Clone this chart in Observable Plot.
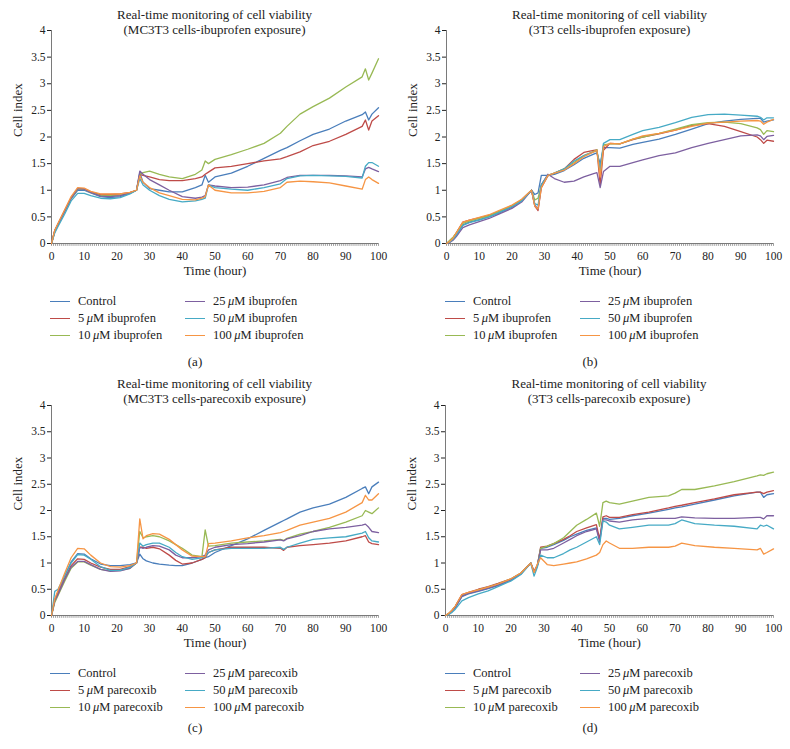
<!DOCTYPE html>
<html>
<head>
<meta charset="utf-8">
<script src="https://cdn.jsdelivr.net/npm/d3@7"></script>
<script src="https://cdn.jsdelivr.net/npm/@observablehq/plot@0.6"></script>
<style>
  html, body { margin: 0; padding: 0; background: #fff; }
  #fig { position: relative; width: 790px; height: 749px; overflow: hidden; font-family: "Liberation Serif", "Times New Roman", serif; color: #222; }
  .panel { position: absolute; width: 395px; height: 379px; }
  .panel svg { position: absolute; left: 0; top: 0; }
  .panel svg, .panel svg text { font-family: "Liberation Serif", "Times New Roman", serif !important; }
  .title { position: absolute; text-align: center; font-size: 13px; line-height: 15px; white-space: nowrap; }
  .leg { position: absolute; font-size: 12.5px; line-height: 16px; white-space: nowrap; }
  .leg .sw { display: inline-block; width: 20px; height: 0; border-top: 1.5px solid; vertical-align: middle; margin-right: 8px; position: relative; top: -1px; }
  .cap { position: absolute; font-size: 13px; line-height: 16px; transform: translateX(-50%); }
</style>
</head>
<body>
<div id="fig"></div>
<script>
// ---------- labels ----------
const seriesColors = ["#4A7EBB", "#BE4B48", "#98B954", "#7D60A0", "#46AAC5", "#F69544"];
const doseLabels = ["Control", "5", "10", "25", "50", "100"];
const drugs = ["ibuprofen", "ibuprofen", "parecoxib", "parecoxib"];
const titleLine1 = "Real-time monitoring of cell viability";
const titleLine2 = ["(MC3T3 cells-ibuprofen exposure)", "(3T3 cells-ibuprofen exposure)", "(MC3T3 cells-parecoxib exposure)", "(3T3 cells-parecoxib exposure)"];
const captions = ["(a)", "(b)", "(c)", "(d)"];
const yTicks = [0, 0.5, 1, 1.5, 2, 2.5, 3, 3.5, 4];
const xTicks = [0, 10, 20, 30, 40, 50, 60, 70, 80, 90, 100];
const yLabel = "Cell index";
const xLabel = "Time (hour)";

// ---------- panel (a): MC3T3 cells, ibuprofen ----------
const hoursA = [0,1,2,4,6,8,10,12,15,18, 21,24,26,27,28,30,33,36,40,44, 46,47,48,50,55,60,65,70,72,76, 80,85,90,95,96,97,98,100];
const a_control = [0,.22,.35,.6,.84,1.0,1.0,.95,.88,.86, .88,.94,1.0,1.33,1.15,1.03,1.0,.97,.97,1.05, 1.1,1.28,1.15,1.25,1.32,1.45,1.6,1.75,1.8,1.93, 2.05,2.15,2.3,2.42,2.47,2.32,2.43,2.55];
const a_5 = [0,.25,.37,.62,.86,1.03,1.03,.97,.92,.92, .93,.96,1.0,1.3,1.28,1.25,1.2,1.18,1.18,1.22, 1.25,1.3,1.34,1.42,1.45,1.5,1.55,1.59,1.63,1.72, 1.84,1.92,2.05,2.2,2.32,2.13,2.3,2.4];
const a_10 = [0,.23,.36,.6,.85,1.02,1.02,.96,.9,.9, .91,.95,1.0,1.3,1.33,1.36,1.3,1.25,1.22,1.3, 1.38,1.55,1.5,1.58,1.67,1.77,1.88,2.07,2.2,2.43, 2.57,2.73,2.94,3.13,3.28,3.07,3.2,3.47];
const a_25 = [0,.24,.36,.6,.85,1.03,1.02,.96,.89,.88, .9,.95,1.0,1.36,1.3,1.2,1.1,1.0,.88,.85, .87,.9,1.1,1.08,1.05,1.06,1.1,1.18,1.24,1.28, 1.28,1.28,1.27,1.25,1.4,1.43,1.4,1.35];
const a_50 = [0,.2,.32,.55,.8,.94,.94,.9,.85,.84, .86,.93,1.0,1.22,1.1,1.0,.9,.83,.78,.8, .83,.85,1.1,1.05,1.02,1.0,1.05,1.12,1.22,1.27, 1.28,1.27,1.26,1.23,1.45,1.52,1.52,1.45];
const a_100 = [0,.25,.38,.63,.88,1.05,1.04,.98,.93,.93, .93,.96,1.0,1.27,1.15,1.05,.95,.9,.83,.82, .85,.88,1.1,1.0,.95,.95,.98,1.05,1.15,1.17, 1.16,1.14,1.08,1.02,1.2,1.25,1.2,1.13];

// ---------- panel (b): 3T3 cells, ibuprofen ----------
const hoursB = [0,1,2,3,5,7,10,13,16,20, 23,26,27,28,29,31,33,36,39,42, 45,46,47,48,50,53,57,60,65,70, 75,80,85,90,95,96,97,98,100];
const b_control = [0,.03,.08,.15,.35,.4,.45,.5,.57,.68, .8,1.0,.92,.95,1.28,1.28,1.3,1.37,1.48,1.6, 1.68,1.7,1.5,1.8,1.8,1.79,1.86,1.9,1.96,2.05, 2.15,2.25,2.3,2.33,2.35,2.35,2.28,2.3,2.32];
const b_5 = [0,.04,.1,.2,.4,.44,.48,.53,.6,.7, .82,1.0,.7,.62,1.05,1.27,1.32,1.4,1.58,1.71, 1.75,1.76,1.1,1.75,1.88,1.87,1.95,2.0,2.06,2.13, 2.22,2.25,2.2,2.1,2.0,1.95,1.88,1.94,1.92];
const b_10 = [0,.06,.12,.2,.38,.42,.47,.52,.6,.71, .82,1.0,.82,.85,1.1,1.28,1.32,1.4,1.52,1.65, 1.73,1.76,1.3,1.85,1.87,1.87,1.96,2.0,2.07,2.15, 2.23,2.27,2.28,2.25,2.17,2.14,2.05,2.12,2.1];
const b_25 = [0,.02,.06,.13,.3,.35,.41,.47,.55,.66, .78,1.0,.72,.65,1.1,1.3,1.22,1.15,1.17,1.25, 1.31,1.33,1.05,1.35,1.45,1.45,1.52,1.57,1.65,1.7, 1.8,1.88,1.95,2.02,2.04,2.02,1.95,2.01,2.03];
const b_50 = [0,.03,.08,.16,.34,.39,.44,.5,.58,.69, .8,1.0,.75,.72,1.1,1.28,1.32,1.4,1.55,1.65, 1.72,1.74,1.4,1.88,1.95,1.95,2.05,2.12,2.18,2.27, 2.37,2.42,2.43,2.41,2.39,2.37,2.32,2.36,2.36];
const b_100 = [0,.04,.1,.2,.4,.44,.49,.54,.62,.72, .83,1.0,.7,.65,1.05,1.28,1.32,1.38,1.5,1.63, 1.72,1.75,1.25,1.82,1.88,1.87,1.96,2.02,2.07,2.13, 2.2,2.26,2.28,2.3,2.31,2.3,2.24,2.28,2.33];

// ---------- panel (c): MC3T3 cells, parecoxib ----------
const hoursC = [0,1,2,4,6,8,10,12,15,18, 21,24,26,27,28,29,31,33,36,38, 40,43,46,47,48,50,55,60,65,70, 71,72,76,80,85,90,95,96,97,98, 100];
const c_control = [0,.3,.45,.75,1.02,1.18,1.17,1.08,.98,.95, .95,.97,1.0,1.17,1.08,1.04,1.0,.98,.96,.95, .95,1.0,1.07,1.1,1.12,1.2,1.33,1.46,1.62,1.78, 1.81,1.84,1.97,2.05,2.12,2.25,2.42,2.45,2.32,2.45, 2.54];
const c_5 = [0,.3,.42,.7,.95,1.08,1.07,1.0,.92,.88, .88,.93,1.0,1.3,1.3,1.28,1.3,1.27,1.15,1.05, .98,1.0,1.07,1.1,1.2,1.25,1.3,1.3,1.3,1.28, 1.24,1.3,1.33,1.35,1.38,1.42,1.5,1.52,1.4,1.37, 1.35];
const c_10 = [0,.25,.38,.65,.9,1.02,1.02,.96,.88,.85, .86,.9,1.0,1.6,1.48,1.5,1.52,1.5,1.42,1.35, 1.28,1.15,1.12,1.63,1.32,1.33,1.38,1.4,1.42,1.45, 1.43,1.47,1.55,1.6,1.68,1.78,1.9,2.0,1.97,1.94, 2.05];
const c_25 = [0,.28,.4,.68,.92,1.03,1.03,.97,.88,.84, .85,.9,1.0,1.3,1.28,1.3,1.33,1.32,1.25,1.15, 1.1,1.1,1.12,1.15,1.25,1.3,1.35,1.37,1.4,1.44, 1.42,1.46,1.52,1.6,1.65,1.68,1.72,1.74,1.68,1.6, 1.58];
const c_50 = [0,.46,.5,.75,1.0,1.16,1.15,1.07,.93,.86, .86,.92,1.0,1.38,1.32,1.35,1.38,1.38,1.3,1.2, 1.12,1.07,1.1,1.12,1.2,1.25,1.28,1.28,1.28,1.3, 1.26,1.3,1.38,1.45,1.48,1.5,1.57,1.6,1.48,1.42, 1.4];
const c_100 = [0,.32,.48,.8,1.1,1.28,1.27,1.15,1.0,.93, .92,.95,1.0,1.84,1.46,1.52,1.56,1.55,1.45,1.35, 1.25,1.13,1.12,1.12,1.37,1.38,1.42,1.48,1.52,1.58, 1.6,1.62,1.72,1.78,1.85,1.97,2.15,2.29,2.2,2.2, 2.32];

// ---------- panel (d): 3T3 cells, parecoxib ----------
const hoursD = [0,1,2,3,5,7,10,13,16,20, 23,26,27,28,29,31,33,36,38,40, 43,46,47,48,49,50,53,57,62,68, 70,72,76,82,88,95,96,97,98,100];
const d_control = [0,.03,.08,.15,.36,.41,.46,.51,.57,.67, .79,1.0,.82,.95,1.28,1.3,1.35,1.43,1.5,1.55, 1.62,1.67,1.45,1.85,1.85,1.83,1.85,1.9,1.95,2.02, 2.05,2.07,2.12,2.2,2.28,2.35,2.35,2.25,2.3,2.32];
const d_5 = [0,.04,.1,.18,.4,.44,.5,.55,.61,.7, .81,1.0,.85,.95,1.3,1.32,1.37,1.45,1.52,1.6, 1.67,1.73,1.45,1.88,1.9,1.87,1.87,1.92,1.97,2.05, 2.08,2.1,2.15,2.22,2.3,2.35,2.35,2.32,2.35,2.38];
const d_10 = [0,.04,.1,.18,.38,.43,.49,.54,.6,.7, .81,1.0,.82,.95,1.28,1.32,1.37,1.48,1.6,1.72, 1.83,1.95,1.7,2.15,2.18,2.15,2.12,2.18,2.25,2.28, 2.33,2.4,2.4,2.47,2.55,2.66,2.68,2.67,2.7,2.73];
const d_25 = [0,.03,.08,.16,.37,.42,.47,.52,.58,.68, .8,1.0,.83,.95,1.25,1.25,1.28,1.38,1.45,1.52, 1.6,1.65,1.4,1.82,1.82,1.8,1.78,1.82,1.85,1.85, 1.85,1.88,1.86,1.85,1.85,1.87,1.87,1.84,1.9,1.9];
const d_50 = [0,.02,.06,.12,.28,.34,.41,.47,.55,.66, .78,1.0,.75,.92,1.15,1.1,1.1,1.18,1.25,1.3, 1.4,1.5,1.35,1.8,1.78,1.72,1.65,1.68,1.72,1.72, 1.75,1.82,1.75,1.72,1.7,1.65,1.72,1.7,1.72,1.65];
const d_100 = [0,.04,.1,.18,.4,.44,.49,.54,.6,.7, .81,1.0,.82,.98,1.1,.97,.95,.98,1.0,1.02, 1.08,1.15,1.2,1.35,1.42,1.38,1.28,1.28,1.3,1.3, 1.32,1.38,1.33,1.3,1.28,1.25,1.28,1.17,1.2,1.27];

// ---------- layout / drawing ----------
const FONT = '"Liberation Serif", "Times New Roman", serif';
const AXIS = "#7a7a7a";
const minorTicks = d3.range(0, 100.001, 0.625);

const panels = [
  {left: 0,   top: 0,   xl: 51, xr: 378, yt: 30, yb: 243, titleTop: 7,  legTop: 293, capY: 362, hours: hoursA, series: [a_control, a_5, a_10, a_25, a_50, a_100]},
  {left: 395, top: 0,   xl: 51, xr: 378, yt: 30, yb: 243, titleTop: 7,  legTop: 293, capY: 362, hours: hoursB, series: [b_control, b_5, b_10, b_25, b_50, b_100]},
  {left: 0,   top: 370, xl: 51, xr: 378, yt: 35, yb: 245, titleTop: 6,  legTop: 295, capY: 358, hours: hoursC, series: [c_control, c_5, c_10, c_25, c_50, c_100]},
  {left: 395, top: 370, xl: 50, xr: 378, yt: 35, yb: 245, titleTop: 6,  legTop: 295, capY: 358, hours: hoursD, series: [d_control, d_5, d_10, d_25, d_50, d_100]}
];

const fig = document.getElementById("fig");

panels.forEach((p, k) => {
  const div = document.createElement("div");
  div.className = "panel";
  div.style.left = p.left + "px";
  div.style.top = p.top + "px";
  const H = 290;
  const chart = Plot.plot({
    width: 395,
    height: H,
    marginLeft: p.xl,
    marginRight: 395 - p.xr,
    marginTop: p.yt,
    marginBottom: H - p.yb,
    style: {fontFamily: FONT, fontSize: "11.5px", color: "#222", background: "transparent", overflow: "visible"},
    x: {domain: [0, 100], ticks: xTicks, tickSize: 0, tickPadding: 8, tickFormat: d => String(d), label: null},
    y: {domain: [0, 4], ticks: yTicks, tickSize: 4, tickPadding: 2, tickFormat: d => String(d), label: null},
    marks: [
      Plot.ruleX(minorTicks, {y1: 0, y2: -0.055, stroke: AXIS, strokeWidth: 0.7}),
      Plot.ruleX([0], {stroke: AXIS, strokeWidth: 1}),
      Plot.ruleY([0], {stroke: AXIS, strokeWidth: 1}),
      ...p.series.map((vals, i) =>
        Plot.line(vals.map((v, j) => [p.hours[j], v]), {stroke: seriesColors[i], strokeWidth: 1.3, strokeLinejoin: "round"})
      ),
      Plot.text([yLabel], {frameAnchor: "left", rotate: -90, dx: -34, fontSize: 13, fill: "#222"}),
      Plot.text([xLabel], {frameAnchor: "bottom", dy: 31, fontSize: 13, fill: "#222"})
    ]
  });
  div.appendChild(chart);

  // title
  const t = document.createElement("div");
  t.className = "title";
  t.style.left = p.xl + "px";
  t.style.width = (p.xr - p.xl) + "px";
  t.style.top = p.titleTop + "px";
  const l1 = document.createElement("div"); l1.textContent = titleLine1;
  const l2 = document.createElement("div"); l2.textContent = titleLine2[k];
  t.appendChild(l1); t.appendChild(l2);
  div.appendChild(t);

  // legend
  const colX = [50, 185];
  doseLabels.forEach((d, i) => {
    const item = document.createElement("div");
    item.className = "leg";
    item.style.left = colX[Math.floor(i / 3)] + "px";
    item.style.top = (p.legTop + (i % 3) * 17) + "px";
    const sw = document.createElement("span");
    sw.className = "sw";
    sw.style.borderTopColor = seriesColors[i];
    item.appendChild(sw);
    if (d === "Control") {
      item.appendChild(document.createTextNode("Control"));
    } else {
      item.appendChild(document.createTextNode(d + "\u2009"));
      const mu = document.createElement("i"); mu.textContent = "\u03bc";
      item.appendChild(mu);
      item.appendChild(document.createTextNode("M " + drugs[k]));
    }
    div.appendChild(item);
  });

  // caption
  const c = document.createElement("div");
  c.className = "cap";
  c.style.left = "195px";
  c.style.top = (p.capY - 8) + "px";
  c.textContent = captions[k];
  div.appendChild(c);

  fig.appendChild(div);
});
</script>
</body>
</html>
